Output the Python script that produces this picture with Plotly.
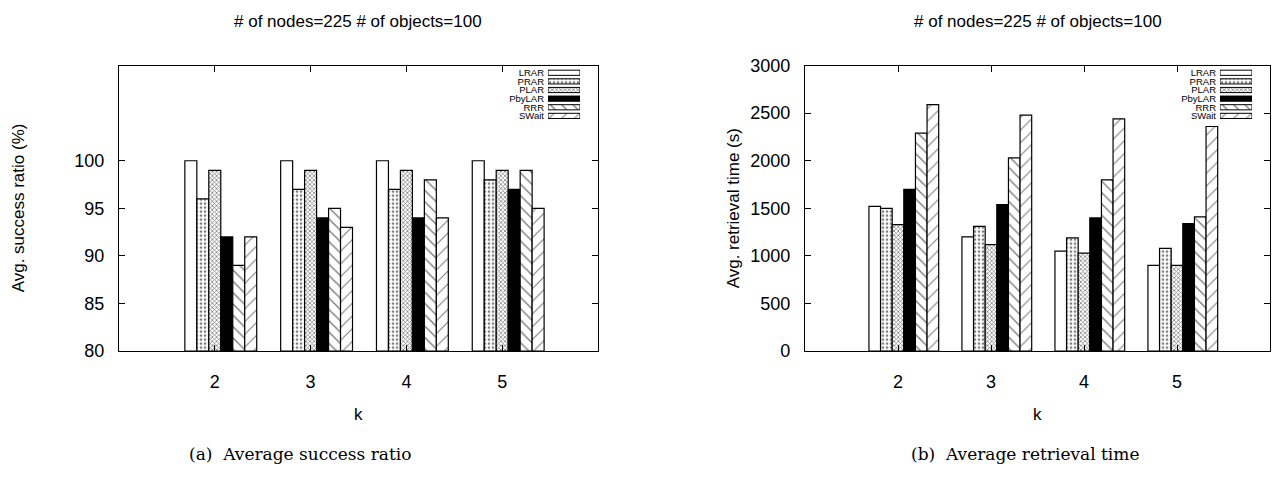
import plotly.graph_objects as go

# Number of replicas k
k_labels = ["2", "3", "4", "5"]
k_pos = [0, 1, 2, 3]

schemes = ["LRAR", "PRAR", "PLAR", "PbyLAR", "RRR", "SWait"]

# Average success ratio (%) per scheme, for k = 2..5
succ_lrar = [100, 100, 100, 100]
succ_prar = [96, 97, 97, 98]
succ_plar = [99, 99, 99, 99]
succ_pbylar = [92, 94, 94, 97]
succ_rrr = [89, 95, 98, 99]
succ_swait = [92, 93, 94, 95]

# Average retrieval time (s) per scheme, for k = 2..5
time_lrar = [1520, 1200, 1050, 900]
time_prar = [1500, 1310, 1190, 1080]
time_plar = [1330, 1120, 1030, 900]
time_pbylar = [1700, 1540, 1400, 1340]
time_rrr = [2290, 2030, 1800, 1410]
time_swait = [2590, 2480, 2440, 2360]

success = [succ_lrar, succ_prar, succ_plar, succ_pbylar, succ_rrr, succ_swait]
retrieval = [time_lrar, time_prar, time_plar, time_pbylar, time_rrr, time_swait]

# gnuplot-like fill styles for each scheme
styles = [
    dict(color="white", pattern=dict(shape="")),
    dict(color="white", pattern=dict(shape=".", fgcolor="black", bgcolor="white", size=4, solidity=0.35)),
    dict(color="white", pattern=dict(shape="x", fgcolor="black", bgcolor="white", size=3, solidity=0.45)),
    dict(color="black", pattern=dict(shape="")),
    dict(color="white", pattern=dict(shape="\\", fgcolor="black", bgcolor="white", size=8, solidity=0.18)),
    dict(color="white", pattern=dict(shape="/", fgcolor="black", bgcolor="white", size=9, solidity=0.12)),
]

BAR_W = 0.125
FONT = "Liberation Sans, Arial, sans-serif"
W, H = 1273, 479

left_frame = (119, 598)
right_frame = (805, 1270)
top_px, bottom_px = 58, 356

left_dom = [left_frame[0] / W, left_frame[1] / W]
right_dom = [right_frame[0] / W, right_frame[1] / W]
y_dom = [(H - bottom_px) / H, (H - top_px) / H]

fig = go.Figure()

for i, name in enumerate(schemes):
    st = styles[i]
    offset = -0.3125 + i * BAR_W
    marker = dict(color=st["color"], pattern=st["pattern"],
                  line=dict(color="black", width=1.2))
    fig.add_trace(go.Bar(
        x=k_pos, y=[v - 80 for v in success[i]], base=80, name=name,
        width=BAR_W, offset=offset, marker=marker,
        xaxis="x", yaxis="y", showlegend=False,
    ))
    fig.add_trace(go.Bar(
        x=k_pos, y=retrieval[i], name=name,
        width=BAR_W, offset=offset, marker=marker,
        xaxis="x2", yaxis="y2", showlegend=False,
    ))
    # key samples: one short horizontal bar per scheme, labelled by the key axis
    for xa, ya in (("x3", "y3"), ("x4", "y4")):
        fig.add_trace(go.Bar(
            x=[1], y=[name], orientation="h", name=name, width=0.6,
            marker=dict(color=st["color"], pattern=st["pattern"],
                        line=dict(color="black", width=1)),
            xaxis=xa, yaxis=ya, showlegend=False, hoverinfo="skip",
        ))

xaxis_common = dict(
    range=[-1, 4], tickvals=k_pos, ticktext=k_labels,
    ticks="inside", ticklen=6, tickcolor="black", mirror="ticks",
    showline=True, linecolor="black", linewidth=1.3,
    showgrid=False, zeroline=False, ticklabelstandoff=14,
    tickfont=dict(family=FONT, size=18, color="black"),
)
yaxis_common = dict(
    ticks="inside", ticklen=6, tickcolor="black", mirror="ticks",
    showline=True, linecolor="black", linewidth=1.3,
    showgrid=False, zeroline=False, ticklabelstandoff=10,
    tickfont=dict(family=FONT, size=18, color="black"),
)

# key boxes sit in the upper right corner of each frame
ROW = 9.0
key_top = 61
key_bottom = key_top + ROW * len(schemes)


def key_axes(frame_right):
    xa = dict(domain=[(frame_right - 50) / W, (frame_right - 18) / W],
              range=[0, 1], visible=False, fixedrange=True)
    ya = dict(domain=[(H - key_bottom) / H, (H - key_top) / H],
              type="category", categoryorder="array", categoryarray=schemes,
              tickmode="array", tickvals=schemes, ticktext=schemes,
              range=[len(schemes) - 0.5, -0.5],
              showline=False, showgrid=False,
              zeroline=False, ticks="", ticklabelstandoff=3,
              tickfont=dict(family=FONT, size=9.5, color="black"), fixedrange=True)
    return xa, ya


x3, y3 = key_axes(left_frame[1])
x4, y4 = key_axes(right_frame[1])
x3["anchor"] = "y3"
y3["anchor"] = "x3"
x4["anchor"] = "y4"
y4["anchor"] = "x4"

fig.update_layout(
    width=W, height=H,
    margin=dict(l=0, r=0, t=0, b=0),
    paper_bgcolor="white", plot_bgcolor="rgba(0,0,0,0)",
    barmode="overlay",
    showlegend=False,
    xaxis=dict(domain=left_dom, anchor="y", **xaxis_common),
    yaxis=dict(domain=y_dom, anchor="x", range=[80, 110],
               tickvals=[80, 85, 90, 95, 100], **yaxis_common),
    xaxis2=dict(domain=right_dom, anchor="y2", **xaxis_common),
    yaxis2=dict(domain=y_dom, anchor="x2", range=[0, 3000],
                tickvals=[0, 500, 1000, 1500, 2000, 2500, 3000], **yaxis_common),
    xaxis3=x3, yaxis3=y3, xaxis4=x4, yaxis4=y4,
)

title_text = "# of nodes=225 # of objects=100"
lc = (left_dom[0] + left_dom[1]) / 2
rc = (right_dom[0] + right_dom[1]) / 2
annotations = [
    dict(text=title_text, x=lc, y=(H - 12) / H),
    dict(text=title_text, x=rc, y=(H - 12) / H),
    dict(text="k", x=lc, y=(H - 422) / H),
    dict(text="k", x=rc, y=(H - 422) / H),
    dict(text="Avg. success ratio (%)", x=18 / W, y=(H - 207) / H, textangle=-90),
    dict(text="Avg. retrieval time (s)", x=733 / W, y=(H - 207) / H, textangle=-90),
]
for a in annotations:
    a.update(xref="paper", yref="paper", showarrow=False,
             xanchor="center", yanchor="middle",
             font=dict(family=FONT, size=17, color="black"))

captions = [
    dict(text="(a)  Average success ratio", x=300 / W),
    dict(text="(b)  Average retrieval time", x=1025 / W),
]
for c in captions:
    c.update(xref="paper", yref="paper", y=(H - 463) / H, showarrow=False,
             xanchor="center", yanchor="middle",
             font=dict(family="DejaVu Serif, Liberation Serif, serif", size=17, color="black"))

fig.update_layout(annotations=annotations + captions)

fig.write_html("out.html")
